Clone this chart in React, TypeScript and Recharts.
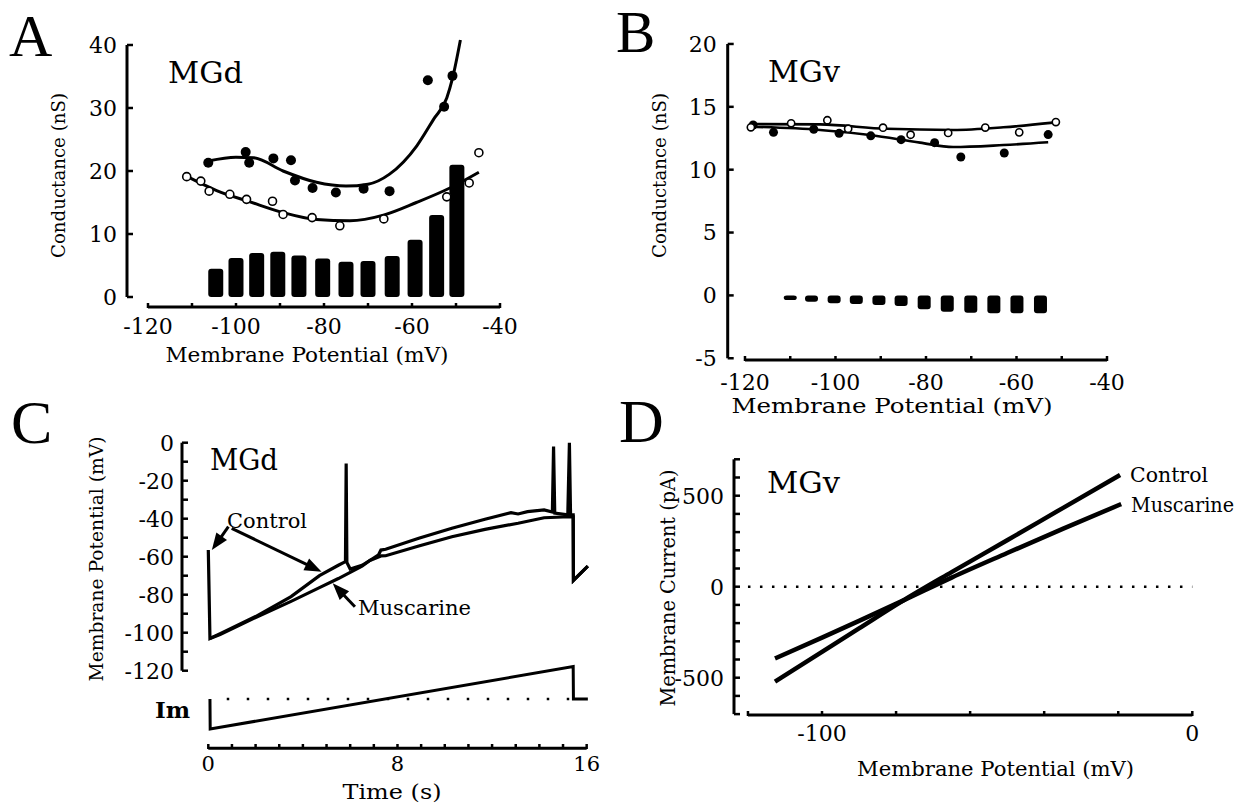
import React from 'react';
import { ComposedChart, Line, Bar, Scatter, XAxis, YAxis, ReferenceLine } from 'recharts';

const W = 1253;
const H = 807;
const FONT = "'DejaVu Serif', 'Liberation Serif', serif";
const LETTER_FONT = "'Liberation Serif', 'Times New Roman', serif";

// ---------- Panel A (MGd conductance) ----------
const aBarV = [-104.6, -100, -95.3, -90.5, -85.7, -80.3, -75, -70, -64.5, -59.3, -54.4, -49.8];
const aBarG = [4.5, 6.2, 7.0, 7.2, 6.6, 6.1, 5.6, 5.7, 6.5, 9.1, 13.0, 21.0];
const aFilledV = [-106.3, -97.8, -97.0, -91.5, -87.5, -86.6, -82.6, -77.3, -71.0, -65.1, -56.4, -52.7, -50.8];
const aFilledG = [21.3, 23.0, 21.3, 22.0, 21.7, 18.5, 17.3, 16.6, 17.2, 16.8, 34.4, 30.2, 35.1];
const aOpenV = [-111.2, -108.0, -106.1, -101.4, -97.6, -91.7, -89.3, -82.7, -76.4, -66.4, -52.1, -47.0, -44.8];
const aOpenG = [19.1, 18.4, 16.8, 16.3, 15.5, 15.2, 13.1, 12.6, 11.3, 12.4, 15.9, 18.1, 22.9];
const aFitFilledV = [-106.3, -100, -96, -89.3, -81.7, -75, -70, -65.1, -58.9, -55.1, -52.1, -50.8, -49.0];
const aFitFilledG = [21.6, 22.2, 22.1, 20.0, 18.2, 17.6, 17.9, 19.5, 24.0, 28.2, 31.6, 34.7, 40.8];
const aFitOpenV = [-111.6, -104.4, -96.8, -89.3, -81.7, -74.1, -66.5, -59.0, -51.4, -44.8];
const aFitOpenG = [19.3, 16.9, 15.1, 13.4, 12.3, 12.1, 13.0, 15.0, 17.3, 19.8];
const aXTicks = [-120, -110, -100, -90, -80, -70, -60, -50, -40];
const aXLabels = [-120, -100, -80, -60, -40];
const aYTicks = [0, 10, 20, 30, 40];

// ---------- Panel B (MGv conductance) ----------
const bBarV = [-110, -105.3, -100.3, -95.4, -90.4, -85.5, -80.4, -75.3, -70.1, -65, -59.9, -54.7];
const bBarG = [-0.37, -0.5, -0.63, -0.68, -0.76, -0.84, -1.1, -1.3, -1.38, -1.42, -1.42, -1.42];
const bFilledV = [-118.2, -113.7, -104.8, -99.2, -92.2, -85.5, -78.1, -72.3, -62.7, -53.0];
const bFilledG = [13.55, 12.97, 13.22, 12.89, 12.69, 12.39, 12.15, 11.01, 11.33, 12.79];
const bOpenV = [-118.7, -109.8, -101.8, -97.2, -89.5, -83.4, -75.1, -66.9, -59.4, -51.3];
const bOpenG = [13.37, 13.69, 13.93, 13.26, 13.34, 12.78, 12.92, 13.35, 12.97, 13.79];
const bFitOpenV = [-118.9, -103.4, -88.7, -74.0, -62.9, -51.9];
const bFitOpenG = [13.63, 13.6, 13.25, 13.16, 13.37, 13.74];
const bFitFilledV = [-118.9, -103.4, -92.4, -81.3, -74.0, -62.9, -53.0];
const bFitFilledG = [13.42, 13.16, 12.76, 12.15, 11.8, 11.96, 12.18];
const bXTicks = [-120, -110, -100, -90, -80, -70, -60, -50, -40];
const bXLabels = [-120, -100, -80, -60, -40];
const bYTicks = [-5, 0, 5, 10, 15, 20];

// ---------- Panel C (MGd voltage traces) ----------
const cControlT = [0, 0.07, 0.5, 2, 3.5, 4.7, 5.5, 5.8, 5.83, 5.86, 6.0, 6.5, 6.83, 7.2, 7.3, 7.5, 8.9, 10.3, 11.7, 12.8, 13.1, 13.5, 14.2, 14.55, 14.6, 14.65, 15.2, 15.43, 15.44, 16.05];
const cControlMv = [-56.5, -103, -100.5, -91.5, -81, -70, -64.5, -62.6, -11, -63, -66.5, -64.5, -62, -59, -56.5, -56.1, -50.3, -45, -40.3, -36.8, -37.5, -36.3, -35.4, -36.5, -2, -37, -38, -38, -72.5, -65];
const cMuscT = [0.07, 0.5, 2, 3.5, 4.7, 5.5, 6.5, 6.83, 7.3, 7.5, 8.9, 10.3, 11.7, 13.1, 14.2, 15.2, 15.27, 15.32, 15.43, 15.44, 16.05];
const cMuscMv = [-103, -101, -92, -83.5, -76.3, -71.5, -65, -62, -59.6, -59.5, -54.4, -49.5, -45.6, -42.4, -39.5, -39, 0, -39, -39, -72.5, -65];
const cImT = [0.07, 0.08, 15.43, 15.44, 16.05];
const cImVal = [0, -100, 108, 0, 0];
const cArrowFromT = [0.85, 0.99, 6.2];
const cArrowFromMv = [-44.2, -45.05, -86.3];
const cArrowToT = [0.15, 4.79, 5.26];
const cArrowToMv = [-56.5, -67.9, -74];
const cXTicks = [0, 1, 2, 3, 4, 5, 6, 7, 8, 9, 10, 11, 12, 13, 14, 15, 16];
const cXLabels = [0, 8, 16];
const cYTicks = [-120, -110, -100, -90, -80, -70, -60, -50, -40, -30, -20, -10, 0];
const cYLabels = [-120, -100, -80, -60, -40, -20, 0];

// ---------- Panel D (MGv I-V) ----------
const dControlV = [-112.7, -100, -90, -78, -65, -50, -35, -19.5];
const dControlI = [-522, -358, -229, -75, 80, 255, 432, 614];
const dMuscV = [-112.7, -100, -90, -78, -65, -50, -35, -19.2];
const dMuscI = [-394, -280, -188, -75, 50, 185, 318, 454];
const dXTicks = [-120, -100, -80, -60, -40, -20, 0];
const dXLabels = [-100, 0];
const dYTicks = [-700, -600, -500, -400, -300, -200, -100, 0, 100, 200, 300, 400, 500, 600, 700];
const dYLabels = [-500, 0, 500];

// ---------- helpers ----------
const zip = (xs: number[], ys: number[]) => xs.map((x, i) => ({ x, y: ys[i] }));
const aBars = aBarV.map((x, i) => ({ x, g: aBarG[i] }));
const bBars = bBarV.map((x, i) => ({ x, g: bBarG[i] }));
const cArrows = cArrowFromT.map((t, i) => [
  { x: t, y: cArrowFromMv[i] },
  { x: cArrowToT[i], y: cArrowToMv[i] },
]);

const YW = 50;
const XH = 40;
const mg = (L: number, T: number, R: number, B: number) => ({
  left: L - YW,
  top: T,
  right: W - R,
  bottom: H - B - XH,
});

const TL = { stroke: '#000', strokeWidth: 2.5 };

const xTick = (labels: number[], fs = 22) => (props: any) => {
  const { x, y, payload } = props;
  const v = payload.value;
  if (!labels.includes(v)) return <g />;
  return (
    <text x={x} y={y} dy="0.72em" textAnchor="middle" fontFamily={FONT} fontSize={fs} fill="#000">
      {String(v)}
    </text>
  );
};
const yTick = (labels: number[], fs = 22) => (props: any) => {
  const { x, y, payload } = props;
  const v = payload.value;
  if (!labels.includes(v)) return <g />;
  return (
    <text x={x} y={y} dy="0.36em" textAnchor="end" fontFamily={FONT} fontSize={fs} fill="#000">
      {String(v)}
    </text>
  );
};

const barShape = (w: number) => (p: any) => {
  const cx = p.x + p.width / 2;
  const top = Math.min(p.y, p.y + p.height);
  const h = Math.abs(p.height);
  return <rect x={cx - w / 2} y={top} width={w} height={h} rx={3} ry={3} fill="#000" />;
};

const filledDot = (r: number) => (p: any) => <circle cx={p.cx} cy={p.cy} r={r} fill="#000" />;
const openDot = (r: number) => (p: any) => (
  <circle cx={p.cx} cy={p.cy} r={r} fill="#fff" stroke="#000" strokeWidth={1.6} />
);

const arrowShape = (p: any) => {
  const { x1, y1, x2, y2 } = p;
  const dx = x2 - x1;
  const dy = y2 - y1;
  const len = Math.hypot(dx, dy) || 1;
  const ux = dx / len;
  const uy = dy / len;
  const hl = 17;
  const hw = 6.5;
  const bx = x2 - ux * hl;
  const by = y2 - uy * hl;
  const pts = `${x2},${y2} ${bx - uy * hw},${by + ux * hw} ${bx + uy * hw},${by - ux * hw}`;
  return (
    <g>
      <line x1={x1} y1={y1} x2={bx + ux * 2} y2={by + uy * 2} stroke="#000" strokeWidth={3} />
      <polygon points={pts} fill="#000" />
    </g>
  );
};

const AX = { stroke: '#000', strokeWidth: 3, ifOverflow: 'visible' as const };

const T = (props: {
  x: number;
  y: number;
  s: number;
  len?: number;
  anchor?: 'start' | 'middle' | 'end';
  rot?: boolean;
  bold?: boolean;
  font?: string;
  children: React.ReactNode;
}) => (
  <text
    x={props.x}
    y={props.y}
    fontSize={props.s}
    fontFamily={props.font || FONT}
    textLength={props.len}
    lengthAdjust={props.len ? 'spacingAndGlyphs' : undefined}
    textAnchor={props.anchor || 'start'}
    transform={props.rot ? `rotate(-90 ${props.x} ${props.y})` : undefined}
    fontWeight={props.bold ? 'bold' : 'normal'}
    fill="#000"
  >
    {props.children}
  </text>
);

const layer: React.CSSProperties = { position: 'absolute', left: 0, top: 0 };

export default function App() {
  return (
    <div style={{ position: 'absolute', left: 0, top: 0, width: W, height: H, background: '#fff', overflow: 'hidden' }}>
      {/* Panel A */}
      <div style={layer}>
        <ComposedChart width={W} height={H} data={aBars} margin={mg(127, 38, 500, 308)}>
          <XAxis type="number" dataKey="x" domain={[-124.77, -40]} allowDataOverflow ticks={aXTicks} interval={0}
            height={XH} axisLine={false} tickLine={TL} tickSize={-5} tickMargin={15} tick={xTick(aXLabels)} />
          <YAxis type="number" domain={[-1.746, 41.11]} allowDataOverflow ticks={aYTicks} interval={0}
            width={YW} axisLine={false} tickLine={TL} tickSize={-6} tickMargin={16} tick={yTick(aYTicks)} />
          <ReferenceLine segment={[{ x: -124.77, y: 0 }, { x: -124.77, y: 40 }]} {...AX} />
          <ReferenceLine segment={[{ x: -120, y: -1.6 }, { x: -40, y: -1.6 }]} {...AX} />
          <Bar dataKey="g" fill="#000" shape={barShape(15)} isAnimationActive={false} />
          <Line data={zip(aFitFilledV, aFitFilledG)} dataKey="y" type="monotone" stroke="#000" strokeWidth={3} dot={false} isAnimationActive={false} />
          <Line data={zip(aFitOpenV, aFitOpenG)} dataKey="y" type="monotone" stroke="#000" strokeWidth={3} dot={false} isAnimationActive={false} />
          <Scatter data={zip(aFilledV, aFilledG)} dataKey="y" shape={filledDot(5)} isAnimationActive={false} />
          <Scatter data={zip(aOpenV, aOpenG)} dataKey="y" shape={openDot(4)} isAnimationActive={false} />
        </ComposedChart>
      </div>

      {/* Panel B */}
      <div style={layer}>
        <ComposedChart width={W} height={H} data={bBars} margin={mg(727.7, 40, 1107, 361)}>
          <XAxis type="number" dataKey="x" domain={[-123.82, -40]} allowDataOverflow ticks={bXTicks} interval={0}
            height={XH} axisLine={false} tickLine={TL} tickSize={-5} tickMargin={18} tick={xTick(bXLabels)} />
          <YAxis type="number" domain={[-5.218, 20.315]} allowDataOverflow ticks={bYTicks} interval={0}
            width={YW} axisLine={false} tickLine={TL} tickSize={-6} tickMargin={17} tick={yTick(bYTicks)} />
          <ReferenceLine segment={[{ x: -123.82, y: -5 }, { x: -123.82, y: 20 }]} {...AX} />
          <ReferenceLine segment={[{ x: -120, y: -5.14 }, { x: -40, y: -5.14 }]} {...AX} />
          <Bar dataKey="g" fill="#000" shape={barShape(13)} isAnimationActive={false} />
          <Line data={zip(bFitOpenV, bFitOpenG)} dataKey="y" type="monotone" stroke="#000" strokeWidth={2.6} dot={false} isAnimationActive={false} />
          <Line data={zip(bFitFilledV, bFitFilledG)} dataKey="y" type="monotone" stroke="#000" strokeWidth={2.6} dot={false} isAnimationActive={false} />
          <Scatter data={zip(bFilledV, bFilledG)} dataKey="y" shape={filledDot(4.5)} isAnimationActive={false} />
          <Scatter data={zip(bOpenV, bOpenG)} dataKey="y" shape={openDot(3.6)} isAnimationActive={false} />
        </ComposedChart>
      </div>

      {/* Panel C */}
      <div style={layer}>
        <ComposedChart width={W} height={H} margin={mg(182, 436, 591.4, 749)}>
          <XAxis type="number" dataKey="x" domain={[-1.112, 16.2]} allowDataOverflow ticks={cXTicks} interval={0}
            height={XH} axisLine={false} tickLine={TL} tickSize={-5} tickMargin={12} tick={xTick(cXLabels, 21)} />
          <YAxis type="number" domain={[-161.21, 3.526]} allowDataOverflow ticks={cYTicks} interval={0}
            width={YW} axisLine={false} tickLine={TL} tickSize={-6} tickMargin={14} tick={yTick(cYLabels)} />
          <YAxis yAxisId="im" type="number" domain={[-166.67, 876.67]} allowDataOverflow hide />
          <ReferenceLine segment={[{ x: -1.112, y: -120 }, { x: -1.112, y: 0 }]} {...AX} />
          <ReferenceLine segment={[{ x: 0, y: -160.84 }, { x: 16, y: -160.84 }]} {...AX} />
          <ReferenceLine yAxisId="im" segment={[{ x: 0.78, y: 0 }, { x: 15.4, y: 0 }]} stroke="#000" strokeWidth={2.5} strokeDasharray="2.5 17.5" ifOverflow="visible" />
          <Line data={zip(cMuscT, cMuscMv)} dataKey="y" type="linear" stroke="#000" strokeWidth={3.2} dot={false} isAnimationActive={false} />
          <Line data={zip(cControlT, cControlMv)} dataKey="y" type="linear" stroke="#000" strokeWidth={3.2} dot={false} isAnimationActive={false} />
          <Line yAxisId="im" data={zip(cImT, cImVal)} dataKey="y" type="linear" stroke="#000" strokeWidth={3} dot={false} isAnimationActive={false} />
          {cArrows.map((seg, i) => (
            <ReferenceLine key={i} segment={seg} shape={arrowShape} ifOverflow="visible" />
          ))}
        </ComposedChart>
      </div>

      {/* Panel D */}
      <div style={layer}>
        <ComposedChart width={W} height={H} margin={mg(734, 455, 1195, 716)}>
          <XAxis type="number" dataKey="x" domain={[-123.77, 0.729]} allowDataOverflow ticks={dXTicks} interval={0}
            height={XH} axisLine={false} tickLine={TL} tickSize={-5} tickMargin={14} tick={xTick(dXLabels)} />
          <YAxis type="number" domain={[-710.4, 723.6]} allowDataOverflow ticks={dYTicks} interval={0}
            width={YW} axisLine={false} tickLine={TL} tickSize={-6} tickMargin={16} tick={yTick(dYLabels)} />
          <ReferenceLine segment={[{ x: -123.77, y: -700 }, { x: -123.77, y: 700 }]} {...AX} />
          <ReferenceLine segment={[{ x: -120, y: -705 }, { x: 0, y: -705 }]} {...AX} />
          <ReferenceLine segment={[{ x: -120, y: 0 }, { x: 0, y: 0 }]} stroke="#000" strokeWidth={2.5} strokeDasharray="2.5 9.5" ifOverflow="visible" />
          <Line data={zip(dControlV, dControlI)} dataKey="y" type="monotone" stroke="#000" strokeWidth={4.5} dot={false} isAnimationActive={false} />
          <Line data={zip(dMuscV, dMuscI)} dataKey="y" type="monotone" stroke="#000" strokeWidth={4.5} dot={false} isAnimationActive={false} />
        </ComposedChart>
      </div>

      {/* Text overlay */}
      <svg width={W} height={H} style={{ position: 'absolute', left: 0, top: 0, pointerEvents: 'none' }}>
        <T x={9} y={56} s={60} font={LETTER_FONT}>A</T>
        <T x={616} y={52} s={59} font={LETTER_FONT}>B</T>
        <T x={11} y={443} s={62} font={LETTER_FONT}>C</T>
        <T x={619} y={442} s={62} font={LETTER_FONT}>D</T>

        <T x={168} y={83} s={29} len={75}>MGd</T>
        <T x={768} y={82} s={29} len={72}>MGv</T>
        <T x={210} y={470} s={29} len={68}>MGd</T>
        <T x={767} y={493} s={29} len={73}>MGv</T>

        <T x={227} y={528} s={21} len={80}>Control</T>
        <T x={358} y={615} s={21} len={113}>Muscarine</T>
        <T x={155} y={718} s={23} bold>Im</T>
        <T x={1130} y={482} s={21} len={78}>Control</T>
        <T x={1131} y={512} s={20} len={103}>Muscarine</T>

        <T x={307} y={362} s={20} len={283} anchor="middle">Membrane Potential (mV)</T>
        <T x={65} y={175.5} s={18.5} len={165} anchor="middle" rot>Conductance (nS)</T>
        <T x={892} y={413} s={21} len={321} anchor="middle">Membrane Potential (mV)</T>
        <T x={665.5} y={175.5} s={18.5} len={165} anchor="middle" rot>Conductance (nS)</T>
        <T x={392} y={799} s={20} len={99} anchor="middle">Time (s)</T>
        <T x={102.5} y={559} s={18.7} len={245} anchor="middle" rot>Membrane Potential (mV)</T>
        <T x={995.6} y={776} s={20} len={277} anchor="middle">Membrane Potential (mV)</T>
        <T x={675} y={588} s={19.5} len={237} anchor="middle" rot>Membrane Current (pA)</T>
      </svg>
    </div>
  );
}
